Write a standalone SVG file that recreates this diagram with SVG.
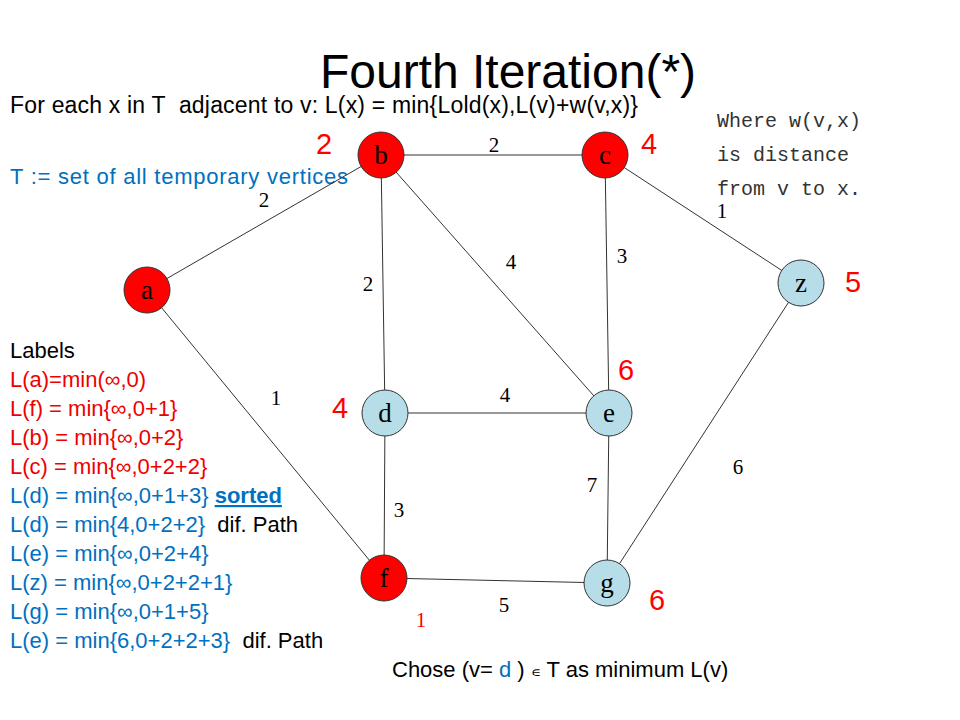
<svg xmlns="http://www.w3.org/2000/svg" width="960" height="720" viewBox="0 0 960 720">
<style>
.n circle{stroke:#333;stroke-width:1}
.red{fill:#f00}.lb{fill:#b7dde8}
.nl{font-family:"Liberation Serif",serif;font-size:27px;text-anchor:middle}
.w{font-family:"Liberation Serif",serif;font-size:21px;text-anchor:middle}
.big{font-family:"Liberation Sans",sans-serif;font-size:29px;fill:#f00;text-anchor:middle}
.m{font-family:"Liberation Mono",monospace;font-size:20px;fill:#333}
.e line{stroke:#333;stroke-width:1}
</style>
<rect width="960" height="720" fill="#fff"/>
<text x="508" y="88" font-family="Liberation Sans,sans-serif" font-size="48" text-anchor="middle">Fourth Iteration(*)</text>
<text x="10" y="113" font-family="Liberation Sans,sans-serif" font-size="23" textLength="628">For each x in T&#160; adjacent to v: L(x) = min{Lold(x),L(v)+w(v,x)}</text>
<text x="10" y="184" font-family="Liberation Sans,sans-serif" font-size="22" fill="#0070c0" textLength="338">T := set of all temporary vertices</text>
<text x="717" y="127" class="m">Where w(v,x)</text>
<text x="717" y="161" class="m">is distance</text>
<text x="717" y="195" class="m">from v to x.</text>
<g class="e" id="edges">
<line x1="381" y1="155" x2="605" y2="155"/>
<line x1="147" y1="290" x2="381" y2="155"/>
<line x1="381" y1="155" x2="385" y2="413"/>
<line x1="381" y1="155" x2="609" y2="413"/>
<line x1="605" y1="155" x2="609" y2="413"/>
<line x1="605" y1="155" x2="801" y2="283"/>
<line x1="147" y1="290" x2="384" y2="578"/>
<line x1="385" y1="413" x2="609" y2="413"/>
<line x1="385" y1="413" x2="384" y2="578"/>
<line x1="609" y1="413" x2="607" y2="583"/>
<line x1="384" y1="578" x2="607" y2="583"/>
<line x1="801" y1="283" x2="607" y2="583"/>
</g>
<g id="weights">
<text x="494" y="152" class="w">2</text>
<text x="264" y="207" class="w">2</text>
<text x="368" y="291" class="w">2</text>
<text x="511" y="269" class="w">4</text>
<text x="622" y="263" class="w">3</text>
<text x="722" y="218" class="w">1</text>
<text x="276" y="405" class="w">1</text>
<text x="505" y="402" class="w">4</text>
<text x="399" y="517" class="w">3</text>
<text x="592" y="492" class="w">7</text>
<text x="738" y="474" class="w">6</text>
<text x="504" y="612" class="w">5</text>
</g>
<g id="node-b" class="n"><circle cx="381" cy="155" r="23" class="red"/><text x="381" y="164" class="nl">b</text></g>
<g id="node-c" class="n"><circle cx="605" cy="155" r="23" class="red"/><text x="605" y="164" class="nl">c</text></g>
<g id="node-a" class="n"><circle cx="147" cy="290" r="23" class="red"/><text x="147" y="299" class="nl">a</text></g>
<g id="node-z" class="n"><circle cx="801" cy="283" r="23" class="lb"/><text x="801" y="292" class="nl">z</text></g>
<g id="node-d" class="n"><circle cx="385" cy="413" r="23" class="lb"/><text x="385" y="422" class="nl">d</text></g>
<g id="node-e" class="n"><circle cx="609" cy="413" r="23" class="lb"/><text x="609" y="422" class="nl">e</text></g>
<g id="node-f" class="n"><circle cx="384" cy="578" r="23" class="red"/><text x="384" y="587" class="nl">f</text></g>
<g id="node-g" class="n"><circle cx="607" cy="583" r="23" class="lb"/><text x="607" y="592" class="nl">g</text></g>
<g id="labels">
<text x="324" y="154" class="big">2</text>
<text x="649" y="154" class="big">4</text>
<text x="853" y="292" class="big">5</text>
<text x="626" y="380" class="big">6</text>
<text x="340" y="418" class="big">4</text>
<text x="657" y="610" class="big">6</text>
<text x="421" y="627" class="w" fill="#f00">1</text>
</g>
<g font-family="Liberation Sans,sans-serif" font-size="22">
<text x="10" y="358">Labels</text>
<text x="10" y="387" fill="#e00">L(a)=min(∞,0)</text>
<text x="10" y="416" fill="#e00">L(f) = min{∞,0+1}</text>
<text x="10" y="445" fill="#e00">L(b) = min{∞,0+2}</text>
<text x="10" y="474" fill="#e00">L(c) = min{∞,0+2+2}</text>
<text x="10" y="503" fill="#0070c0">L(d) = min{∞,0+1+3} <tspan font-weight="bold" text-decoration="underline">sorted</tspan></text>
<text x="10" y="532"><tspan fill="#0070c0">L(d) = min{4,0+2+2}</tspan>&#160; dif. Path</text>
<text x="10" y="561" fill="#0070c0">L(e) = min{∞,0+2+4}</text>
<text x="10" y="590" fill="#0070c0">L(z) = min{∞,0+2+2+1}</text>
<text x="10" y="619" fill="#0070c0">L(g) = min{∞,0+1+5}</text>
<text x="10" y="648"><tspan fill="#0070c0">L(e) = min{6,0+2+2+3}</tspan>&#160; dif. Path</text>
<text x="392" y="677">Chose (v= <tspan fill="#0070c0">d</tspan> ) <tspan font-size="14">∊</tspan> T as minimum L(v)</text>
</g>
</svg>
